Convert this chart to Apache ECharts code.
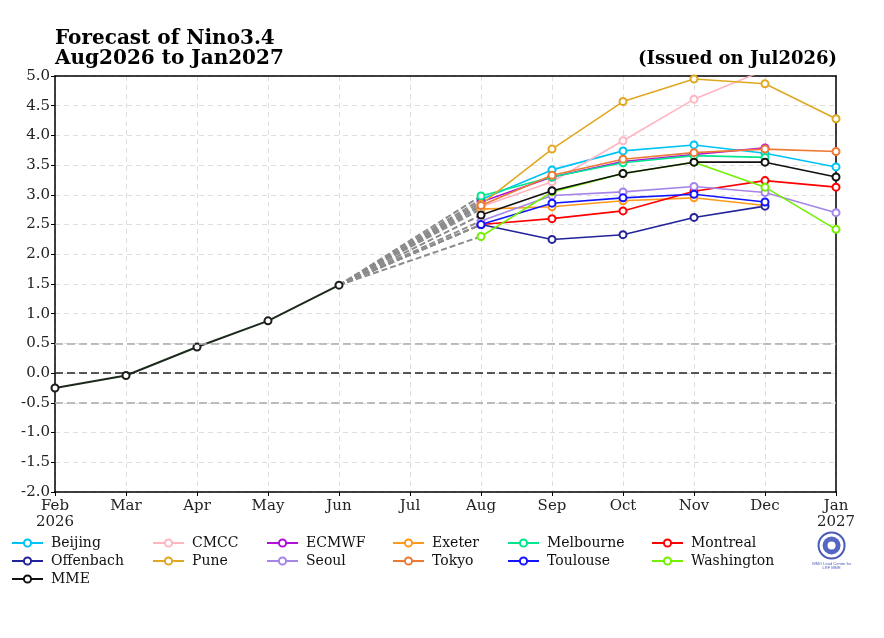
<!DOCTYPE html>
<html>
<head>
<meta charset="utf-8">
<script src="https://cdn.jsdelivr.net/npm/echarts@6/dist/echarts.min.js"></script>
<style>
  html, body { margin: 0; padding: 0; background: #fff; }
  #main { width: 884px; height: 638px; }
</style>
</head>
<body>
<div id="main"></div>
<script>
// months on the x axis, Feb 2026 .. Jan 2027
const months = ['Feb\n2026', 'Mar', 'Apr', 'May', 'Jun', 'Jul', 'Aug', 'Sep', 'Oct', 'Nov', 'Dec', 'Jan\n2027']
const yTicks = [-2, 5, 0.5]

// observed Nino3.4 anomaly, Feb..Jun
const observed = [-0.25, -0.04, 0.44, 0.88, 1.48]

// forecasts, Aug..Jan
const modelNames = ['Beijing', 'CMCC', 'ECMWF', 'Exeter', 'Melbourne', 'Montreal',
  'Offenbach', 'Pune', 'Seoul', 'Tokyo', 'Toulouse', 'Washington', 'MME']
const beijing = [2.92, 3.42, 3.74, 3.84, 3.70, 3.47]
const cmcc = [2.80, 3.22, 3.91, 4.61, 5.10, null]
const ecmwf = [2.88, 3.30, 3.56, 3.68, 3.79, null]
const exeter = [2.76, 2.80, 2.90, 2.95, 2.82, null]
const melbourne = [2.98, 3.30, 3.54, 3.66, 3.63, null]
const montreal = [2.50, 2.60, 2.73, 3.06, 3.24, 3.13]
const offenbach = [2.50, 2.25, 2.33, 2.62, 2.81, null]
const pune = [2.84, 3.77, 4.57, 4.95, 4.87, 4.28]
const seoul = [2.56, 2.99, 3.05, 3.14, 3.04, 2.70]
const tokyo = [2.82, 3.33, 3.60, 3.71, 3.77, 3.73]
const toulouse = [2.50, 2.86, 2.95, 3.01, 2.88, null]
const washington = [2.30, 3.05, 3.36, 3.55, 3.13, 2.42]
const mme = [2.66, 3.07, 3.36, 3.55, 3.55, 3.30]

const modelValues = [beijing, cmcc, ecmwf, exeter, melbourne, montreal,
  offenbach, pune, seoul, tokyo, toulouse, washington, mme]
const modelColors = ['#00c3f5', '#ffb6c1', '#b010d8', '#ff9a1a', '#00e68e', '#ff0000',
  '#22229a', '#e0a820', '#a585e8', '#ec7a35', '#1414ff', '#72f000', '#111111']

const fontFamily = 'DejaVu Serif'
const startIdx = 6

const myChart = echarts.init(document.getElementById('main'))

function pad (vals, from) {
  const res = months.map(() => null)
  vals.forEach((v, i) => { res[from + i] = v })
  return res
}

const series = []

// grey dashed links from last observation to each first forecast month
modelValues.forEach((vals, i) => {
  const d = months.map(() => null)
  d[observed.length - 1] = observed[observed.length - 1]
  d[startIdx] = vals[0]
  series.push({
    type: 'line',
    data: d,
    connectNulls: true,
    symbol: 'none',
    silent: true,
    z: 1,
    lineStyle: { color: '#8c8c8c', width: 2, type: [6, 3] }
  })
})

series.push({
  name: 'Observed',
  type: 'line',
  data: pad(observed, 0),
  symbol: 'emptyCircle',
  symbolSize: 7,
  z: 3,
  itemStyle: { color: '#1c1c1c', borderWidth: 1.5 },
  lineStyle: { color: '#1c2a1c', width: 2 },
  markLine: {
    silent: true,
    symbol: 'none',
    label: { show: false },
    data: [
      { yAxis: 0.5, lineStyle: { color: '#aaaaaa', type: [8, 4], width: 1.5 } },
      { yAxis: 0, lineStyle: { color: '#222222', type: [8, 4], width: 1.5 } },
      { yAxis: -0.5, lineStyle: { color: '#aaaaaa', type: [8, 4], width: 1.5 } }
    ]
  }
})

modelNames.forEach((name, i) => {
  series.push({
    name: name,
    type: 'line',
    data: pad(modelValues[i], startIdx),
    symbol: 'emptyCircle',
    symbolSize: 7,
    z: 2 + (name === 'MME' ? 2 : 0),
    itemStyle: { color: modelColors[i], borderWidth: 1.5 },
    lineStyle: { color: modelColors[i], width: 1.6 }
  })
})

// legend: 6 columns, one legend per entry
const legendCols = [11, 152, 266, 392, 507, 651]
const legendRows = [536, 554, 572]
const legends = modelNames.map((name, i) => ({
  data: [name],
  left: legendCols[i % 6],
  top: legendRows[Math.floor(i / 6)],
  itemWidth: 31,
  itemHeight: 9,
  itemGap: 0,
  padding: 0,
  selectedMode: false,
  textStyle: { fontFamily: fontFamily, fontSize: 14, color: '#111', padding: [0, 0, 0, 3] }
}))

const plainAxis = {
  axisLine: { show: true, onZero: false, lineStyle: { color: '#000', width: 1.5 } },
  axisTick: { show: false },
  axisLabel: { show: false },
  splitLine: { show: false }
}

const option = {
  animation: false,
  backgroundColor: '#fff',
  title: [
    {
      text: 'Forecast of Nino3.4\nAug2026 to Jan2027',
      left: 55,
      top: 29,
      padding: 0,
      textStyle: { fontFamily: fontFamily, fontWeight: 'bold', fontSize: 20, lineHeight: 20, color: '#000' }
    },
    {
      text: '(Issued on Jul2026)',
      right: 47,
      top: 50,
      padding: 0,
      textStyle: { fontFamily: fontFamily, fontWeight: 'bold', fontSize: 18, color: '#000' }
    }
  ],
  legend: legends,
  grid: { left: 55, right: 48, top: 76, bottom: 146, containLabel: false },
  xAxis: [
    {
      type: 'category',
      data: months,
      boundaryGap: false,
      axisLine: { onZero: false, lineStyle: { color: '#000', width: 1.5 } },
      axisTick: { show: true, length: 4, alignWithLabel: true, lineStyle: { color: '#000' } },
      axisLabel: { fontFamily: fontFamily, fontSize: 15, color: '#222', margin: 6, lineHeight: 16, interval: 0 },
      splitLine: { show: true, lineStyle: { color: '#dedede', type: [5, 4] } }
    },
    Object.assign({ type: 'category', data: months, boundaryGap: false, position: 'top' }, plainAxis)
  ],
  yAxis: [
    {
      type: 'value',
      min: yTicks[0],
      max: yTicks[1],
      interval: yTicks[2],
      axisLine: { show: true, onZero: false, lineStyle: { color: '#000', width: 1.5 } },
      axisTick: { show: true, length: 4, lineStyle: { color: '#000' } },
      axisLabel: { fontFamily: fontFamily, fontSize: 15, color: '#222', margin: 5, formatter: v => v.toFixed(1) },
      splitLine: { show: true, lineStyle: { color: '#dedede', type: [5, 4] } }
    },
    Object.assign({ type: 'value', min: yTicks[0], max: yTicks[1], interval: yTicks[2], position: 'right' }, plainAxis)
  ],
  graphic: [
    {
      type: 'group',
      left: 812,
      top: 530,
      children: [
        { type: 'circle', shape: { cx: 18, cy: 15, r: 13 }, style: { fill: 'none', stroke: '#4a5ab8', lineWidth: 2 } },
        { type: 'circle', shape: { cx: 18, cy: 15, r: 9 }, style: { fill: '#5666c4' } },
        { type: 'circle', shape: { cx: 18, cy: 15, r: 4 }, style: { fill: '#fff' } },
        { type: 'text', x: 18, y: 31, style: { text: 'WMO Lead Centre for\nLRF MME', fontSize: 4, fill: '#4a5ab8', align: 'center' } }
      ]
    }
  ],
  series: series
}

myChart.setOption(option)
</script>
</body>
</html>
